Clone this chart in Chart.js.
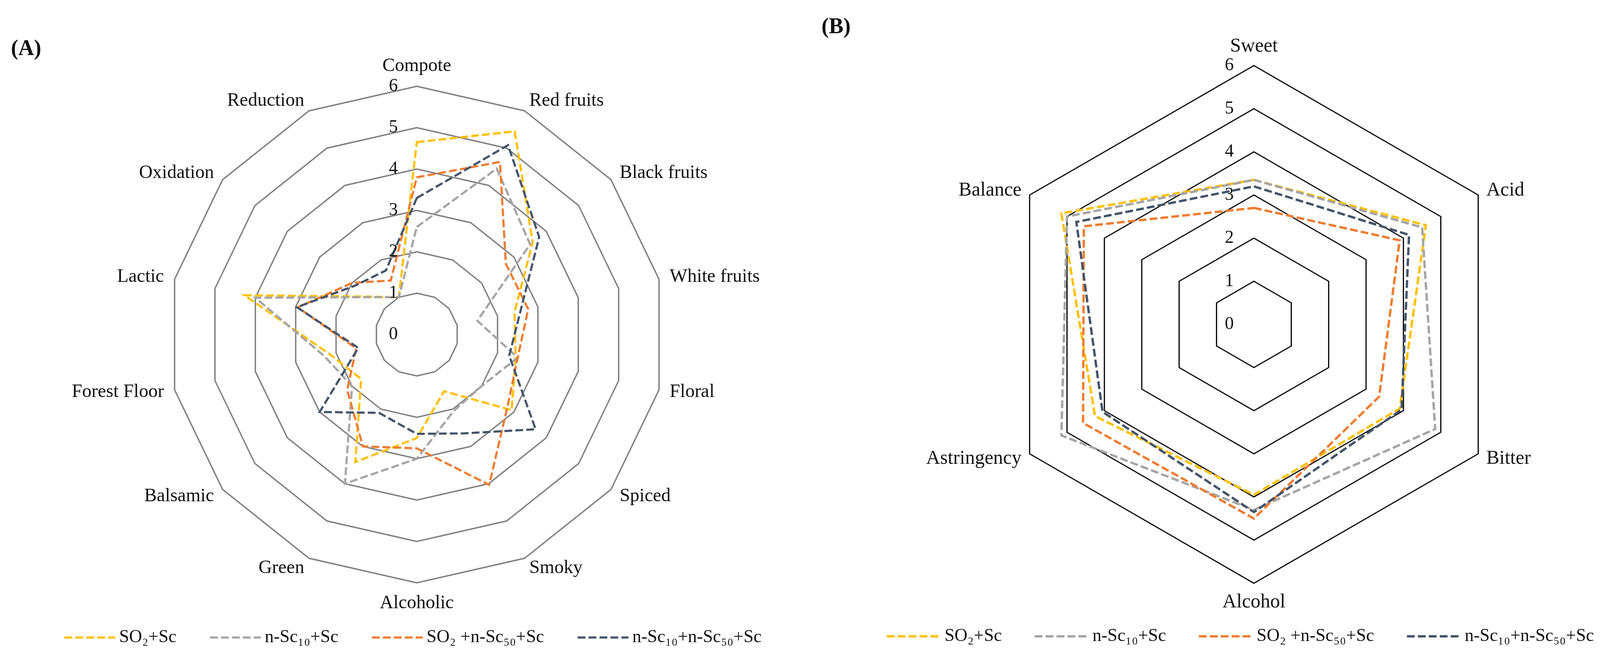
<!DOCTYPE html>
<html>
<head>
<meta charset="utf-8">
<script src="https://cdn.jsdelivr.net/npm/chart.js@4.4.1/dist/chart.umd.min.js"></script>
<style>
  body { margin: 0; background: #fff; }
  #wrap { position: relative; width: 4186px; height: 1706px; overflow: hidden; }
  canvas { position: absolute; top: 0; }
  .tag { position: absolute; font: bold 56px "Liberation Serif", "Times New Roman", serif; line-height: 56px; color: #111; }
</style>
</head>
<body>
<div id="wrap">
  <canvas id="aroma-chart" width="2134" height="1706" style="left:0"></canvas>
  <canvas id="taste-chart" width="2052" height="1706" style="left:2134px"></canvas>
  <div class="tag" style="left:28px;top:94px">(A)</div>
  <div class="tag" style="left:2103px;top:38px">(B)</div>
</div>
<script>
const serif = '"Liberation Serif", "Times New Roman", serif';

// series shared by both panels
const seriesNames = ['SO₂+Sc', 'n-Sc₁₀+Sc', 'SO₂ +n-Sc₅₀+Sc', 'n-Sc₁₀+n-Sc₅₀+Sc'];
const seriesColors = ['#FFC000', '#A5A5A5', '#ED7D31', '#44546A'];

// (A) aroma descriptors
const aromaLabels = ['Compote', 'Red fruits', 'Black fruits', 'White fruits', 'Floral', 'Spiced', 'Smoky',
  'Alcoholic', 'Green', 'Balsamic', 'Forest Floor', 'Lactic', 'Oxidation', 'Reduction'];
const aromaSO2Sc        = [4.65, 5.45, 3.58, 2.42, 2.45, 2.93, 1.52, 2.50, 3.42, 1.72, 2.15, 4.27, 1.47, 1.00];
const aromaNSc10Sc      = [2.60, 4.45, 3.50, 1.50, 2.50, 2.00, 2.05, 3.00, 4.00, 2.00, 2.30, 4.00, 1.45, 1.00];
const aromaSO2NSc50Sc   = [3.80, 4.63, 2.75, 2.76, 2.50, 2.80, 4.03, 2.75, 3.00, 2.15, 1.50, 2.95, 2.00, 1.45];
const aromaNSc10NSc50Sc = [3.30, 5.08, 3.78, 2.57, 2.29, 3.67, 2.65, 2.40, 2.10, 3.00, 1.45, 2.97, 1.90, 1.72];

// (B) taste descriptors
const tasteLabels = ['Sweet', 'Acid', 'Bitter', 'Alcohol', 'Astringency', 'Balance'];
const tasteSO2Sc        = [3.35, 4.60, 3.90, 3.95, 4.25, 5.15];
const tasteNSc10Sc      = [3.35, 4.50, 4.85, 4.30, 5.15, 5.00];
const tasteSO2NSc50Sc   = [2.70, 3.90, 3.35, 4.50, 4.57, 4.55];
const tasteNSc10NSc50Sc = [3.20, 4.15, 3.95, 4.35, 4.05, 4.75];

const scaleMin = 0;
const scaleMax = 6;
const scaleStep = 1;

// axis names, tick numbers and the legend are drawn off the radial scale
const axisText = {
  id: 'axisText',
  afterDraw(chart, args, o) {
    const r = chart.scales.r;
    const ctx = chart.ctx;
    ctx.save();
    ctx.fillStyle = '#111';

    ctx.font = `${o.labelSize}px ${serif}`;
    chart.data.labels.forEach((text, i) => {
      const p = r.getPointPosition(i, r.drawingArea + o.labelGap);
      const dx = p.x - r.xCenter;
      const dy = p.y - r.yCenter;
      const side = Math.abs(dx) >= 1;
      ctx.textAlign = !side ? 'center' : (dx > 0 ? 'left' : 'right');
      ctx.textBaseline = side ? 'middle' : (dy < 0 ? 'bottom' : 'top');
      ctx.fillText(text, p.x, p.y);
    });

    ctx.font = `${o.tickSize}px ${serif}`;
    ctx.textAlign = 'center';
    ctx.textBaseline = 'middle';
    r.ticks.forEach(t => {
      ctx.fillText(t.label, r.xCenter - o.tickShift, r.yCenter - r.getDistanceFromCenterForValue(t.value));
    });

    // legend row, kept inside the canvas
    ctx.font = `${o.legendSize}px ${serif}`;
    const items = chart.data.datasets.map(ds => ({ ds, w: ctx.measureText(ds.label).width }));
    const total = items.reduce((s, it) => s + o.swatch + o.swatchGap + it.w, 0) + o.itemGap * (items.length - 1);
    let x = Math.min(o.legendX, chart.width - 12 - total);
    ctx.textAlign = 'left';
    items.forEach(({ ds, w }) => {
      ctx.beginPath();
      ctx.strokeStyle = ds.borderColor;
      ctx.lineWidth = ds.borderWidth;
      ctx.setLineDash(ds.borderDash);
      ctx.moveTo(x, o.legendY);
      ctx.lineTo(x + o.swatch, o.legendY);
      ctx.stroke();
      ctx.setLineDash([]);
      ctx.fillText(ds.label, x + o.swatch + o.swatchGap, o.legendY);
      x += o.swatch + o.swatchGap + w + o.itemGap;
    });
    ctx.restore();
  }
};

function makeRadar(id, labels, values, look) {
  return new Chart(document.getElementById(id), {
    type: 'radar',
    data: {
      labels,
      datasets: values.map((v, i) => ({
        label: seriesNames[i],
        data: v,
        borderColor: seriesColors[i],
        backgroundColor: 'transparent',
        borderWidth: look.lineWidth,
        borderDash: [20, 8],
        fill: false,
        pointRadius: 0,
        tension: 0,
        order: values.length - i,
      })),
    },
    options: {
      responsive: false,
      animation: false,
      events: [],
      layout: { padding: look.padding },
      plugins: {
        legend: { display: false },
        tooltip: { enabled: false },
        axisText: look.text,
      },
      scales: {
        r: {
          min: scaleMin,
          max: scaleMax,
          ticks: { stepSize: scaleStep, display: false },
          angleLines: { display: false },
          grid: { color: look.gridColor, lineWidth: look.gridWidth },
          pointLabels: { display: false },
        },
      },
    },
    plugins: [axisText],
  });
}

makeRadar('aroma-chart', aromaLabels,
  [aromaSO2Sc, aromaNSc10Sc, aromaSO2NSc50Sc, aromaNSc10NSc50Sc], {
    padding: { top: 221, bottom: 213, left: 0, right: 0 },
    gridColor: '#7F7F7F',
    gridWidth: 3.5,
    lineWidth: 5.5,
    text: { labelSize: 48, labelGap: 28, tickSize: 46, tickShift: 60,
      legendSize: 46, legendX: 165, legendY: 1633, swatch: 130, swatchGap: 10, itemGap: 86 },
  });

makeRadar('taste-chart', tasteLabels,
  [tasteSO2Sc, tasteNSc10Sc, tasteSO2NSc50Sc, tasteNSc10NSc50Sc], {
    padding: { top: 168, bottom: 212, left: 100, right: 0 },
    gridColor: '#000000',
    gridWidth: 3,
    lineWidth: 6,
    text: { labelSize: 50, labelGap: 24, tickSize: 46, tickShift: 63,
      legendSize: 46, legendX: 136, legendY: 1630, swatch: 139, swatchGap: 9, itemGap: 84 },
  });
</script>
</body>
</html>
